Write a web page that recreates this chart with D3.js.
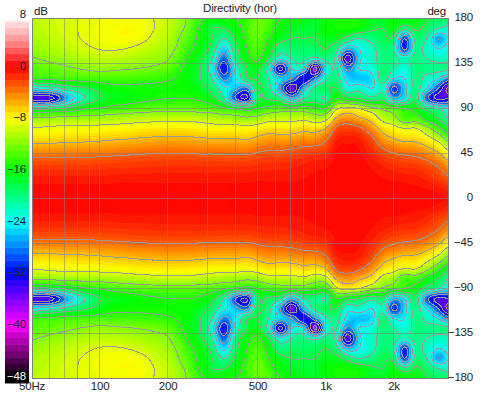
<!DOCTYPE html>
<html>
<head>
<meta charset="utf-8">
<script src="https://cdn.jsdelivr.net/npm/d3@7"></script>
<style>
  html, body { margin: 0; padding: 0; background: #fff; }
  svg { display: block; }
  text { font-family: "Liberation Sans", Arial, sans-serif; font-size: 11.5px; letter-spacing: -0.2px; fill: #222; }
</style>
</head>
<body>
<svg id="chart" width="480" height="396"></svg>
<script>
// measured frequency columns (Hz) and angle rows (deg), lower half mirrors the upper half
var freqs = [50,56,63,71,80,90,100,112,125,140,160,180,200,224,250,280,315,355,400,450,500,560,630,710,800,900,1000,1120,1250,1400,1600,1800,2000,2240,2500,2800,3150,3500];
var angles = [0,10,20,30,40,50,60,70,80,90,100,110,120,130,140,150,160,170,180];

// level in dB, one list per angle
var db0   = [-0.1,-0.1,-0.1,-0.1,-0.1,-0.1,-0.1,-0.1,-0.1,-0.1,-0.1,-0.1,-0.1,-0.1,-0.1,-0.1,-0.1,-0.1,-0.1,-0.1,-0.1,-0.1,-0.1,-0.1,-0.1,-0.1,-0.1,-0.1,-0.1,-0.1,-0.1,-0.1,-0.1,-0.1,-0.1,-0.2,-0.3,-0.5];
var db10  = [-0.3,-0.3,-0.3,-0.3,-0.3,-0.3,-0.3,-0.3,-0.3,-0.3,-0.3,-0.3,-0.3,-0.3,-0.3,-0.3,-0.3,-0.3,-0.3,-0.3,-0.3,-0.3,-0.3,-0.3,-0.3,-0.2,-0.2,-0.1,-0.1,-0.1,-0.2,-0.3,-0.3,-0.3,-0.4,-0.5,-0.8,-1.2];
var db20  = [-0.8,-0.8,-0.8,-0.8,-0.8,-0.8,-0.8,-0.8,-0.7,-0.7,-0.7,-0.7,-0.7,-0.7,-0.7,-0.7,-0.7,-0.7,-0.7,-0.7,-0.6,-0.6,-0.6,-0.6,-0.5,-0.4,-0.3,-0.2,-0.1,-0.1,-0.3,-0.5,-0.6,-0.7,-0.8,-1.2,-1.8,-2.7];
var db30  = [-1.6,-1.6,-1.6,-1.6,-1.6,-1.6,-1.6,-1.5,-1.5,-1.4,-1.4,-1.3,-1.3,-1.3,-1.3,-1.3,-1.3,-1.3,-1.3,-1.3,-1.2,-1.1,-1.1,-1,-0.8,-0.6,-0.5,-0.3,-0.2,-0.2,-0.5,-0.9,-1.2,-1.4,-1.5,-2,-2.8,-4.2];
var db40  = [-2.9,-2.9,-2.9,-2.8,-2.8,-2.8,-2.7,-2.6,-2.5,-2.4,-2.3,-2.3,-2.2,-2.2,-2.2,-2.3,-2.3,-2.4,-2.4,-2.4,-2.1,-1.9,-1.9,-1.8,-1.4,-1.2,-1,-0.4,-0.3,-0.3,-0.9,-1.7,-2.2,-2.5,-2.7,-3.3,-4.5,-6.5];
var db50  = [-5,-5,-4.9,-4.8,-4.8,-4.7,-4.6,-4.5,-4.3,-4.2,-4,-3.9,-3.8,-3.8,-3.9,-4,-4,-4.1,-4.1,-4.2,-3.7,-3.3,-3.3,-3.1,-2.7,-2.5,-2,-0.5,-0.4,-0.5,-1.6,-3,-3.8,-4.3,-4.5,-5.5,-7,-9.5];
var db60  = [-7,-7,-6.9,-6.8,-6.7,-6.6,-6.5,-6.3,-6.2,-6,-5.8,-5.7,-5.6,-5.6,-5.7,-5.8,-6,-6,-6,-6.2,-5.6,-5,-5.2,-5,-4.6,-4.6,-3.5,-1.2,-0.8,-1,-2.5,-5,-6,-6.8,-6.8,-8,-10,-13];
var db70  = [-8.7,-8.7,-8.5,-8.4,-8.3,-8.3,-8.2,-8.1,-8,-7.8,-7.6,-7.5,-7.4,-7.4,-7.5,-7.7,-8,-8,-8,-8.2,-7.8,-7.2,-7.3,-7.3,-6.7,-7,-6,-2.5,-2,-2.5,-4.5,-7,-8,-9,-8.8,-11,-14,-17];
var db80  = [-11.5,-11.5,-11.3,-11.1,-11,-11,-10.8,-10.6,-10.4,-10.2,-10,-9.8,-9.7,-9.7,-9.7,-10,-10.3,-10.7,-11,-11.5,-11,-10,-9.8,-10,-9.5,-10.5,-10,-5.5,-4.5,-5.5,-7,-10,-11,-14,-13.5,-16,-18,-21];
var db90  = [-19,-19,-18,-17.5,-16,-15,-14.8,-14.2,-13.8,-13.5,-13.2,-13,-13,-13,-13,-13.2,-13.5,-14.5,-15.5,-16.5,-15,-14,-13.5,-14,-13.5,-14.5,-15,-9.5,-8,-9,-11,-12.5,-14,-15,-16,-19,-21,-24];
var db100 = [-34,-35,-33,-27,-23,-20,-18,-17,-16.5,-16,-15.5,-15.2,-15,-15,-15,-15.5,-17,-21,-30,-33,-19,-18.5,-20,-26,-21,-20,-21,-15,-17,-18,-20,-19,-26,-24,-19,-29,-34,-33];
var db110 = [-24,-23,-22,-20,-19,-18,-17,-15.8,-15.6,-15.5,-15.5,-15.5,-15.5,-15.7,-16,-17,-19,-23,-26,-28,-18,-20,-27,-36,-26,-20,-18.5,-18,-23,-22,-24,-22,-31,-25,-20,-24,-30,-37];
var db120 = [-14.7,-14.5,-14.3,-14,-13.9,-13.8,-13.7,-13.8,-13.9,-14,-14.2,-14.4,-14.7,-15.3,-16.3,-18,-21,-28,-24,-18.5,-18,-21,-25,-27,-33,-28,-22,-20,-25,-26,-25,-19.5,-24,-24,-20,-22,-24,-28];
var db130 = [-13.5,-13.1,-12.8,-12.4,-12,-11.7,-11.4,-11.5,-11.7,-11.9,-12.2,-12.5,-13,-14.5,-16.3,-18,-23,-32,-23,-18,-17,-22,-34,-24,-24,-37,-24,-21,-28,-24,-23,-19.5,-21,-23,-20,-20,-20,-20];
var db140 = [-12.2,-11.8,-11.4,-11,-10.6,-10.3,-10,-10,-10.2,-10.5,-10.9,-11.3,-11.8,-13.5,-15.5,-17.5,-21,-29,-20,-16,-14.5,-18,-23,-21,-20,-22,-20,-22,-35,-25,-22,-20,-20,-22,-20,-21,-22,-22];
var db150 = [-11.3,-10.9,-10.5,-10,-9.6,-9.2,-8.9,-8.8,-8.9,-9.2,-9.8,-10.4,-11,-12.5,-14.5,-16.2,-19,-25,-19,-15,-13.5,-16,-20,-19,-19,-19,-18,-20,-26,-24,-22,-19.5,-21,-31,-21,-22,-24,-23];
var db160 = [-10.7,-10.3,-9.9,-9.5,-9.1,-8.7,-8.4,-8.2,-8.1,-8.2,-8.8,-9.7,-10.3,-12,-13.8,-15.8,-18,-21,-17.5,-14.5,-13,-15,-17,-18,-18,-18,-17,-17,-19,-21,-20,-18.5,-19,-30,-20,-21,-27,-24];
var db170 = [-10.3,-10,-9.6,-9.3,-9,-8.7,-8.3,-8.1,-8,-8,-8.4,-9.2,-9.8,-11.2,-13,-15.5,-18,-18,-16,-14,-12.5,-14,-16,-17,-17.5,-17.5,-16,-15.5,-15.5,-16,-17.5,-18,-16.5,-20,-17.5,-19,-21,-22];
var db180 = [-10,-9.8,-9.5,-9.2,-9,-8.8,-8.5,-8.3,-8.2,-8.2,-8.6,-9.2,-9.8,-11,-12.5,-14.5,-16,-15.5,-15,-14.5,-13,-13.5,-15,-16,-16.5,-17,-16,-15.5,-15,-15.5,-17,-17,-15.5,-15.5,-16,-17.5,-19,-19];
var levels = [db0,db10,db20,db30,db40,db50,db60,db70,db80,db90,db100,db110,db120,db130,db140,db150,db160,db170,db180];

// axes
var freqGrid = [50,60,70,80,90,100,200,300,400,500,600,700,800,900,1000,2000,3000];
var freqTicks = [50,100,200,500,1000,2000];
var freqLabels = ['50Hz','100','200','500','1k','2k'];
var angleTicks = [180,135,90,45,0,-45,-90,-135,-180];
var dbTicks = [8,0,-8,-16,-24,-32,-40,-48];
var colorDb = [8,4,0,-4,-8,-16,-24,-32,-40,-48];
var colorHex = ['#ffffff','#ff9090','#ff0000','#ff8000','#ffff00','#00ff00','#00ffff','#0000ff','#ff00ff','#000000'];

var W = 480, H = 396;
var plot = {left: 32.5, right: 448.5, top: 18.5, bottom: 378.5};

var x = d3.scaleLog().domain([50, 3483]).range([plot.left - 1, plot.right - 0.5]);
var y = d3.scaleLinear().domain([-180, 180]).range([plot.bottom, plot.top]);
var barY = d3.scaleLinear().domain([8, -48]).range([15, 376.5]);
var color = d3.scaleLinear().domain(colorDb).range(colorHex).clamp(true);

var svg = d3.select('#chart');

// colour bar, one band per dB
svg.append('g').selectAll('rect')
    .data(d3.range(-49, 8))
    .join('rect')
    .attr('x', 5)
    .attr('width', 24)
    .attr('y', function (d) { return Math.max(20, barY(d + 1)); })
    .attr('height', function (d) { return Math.max(0, barY(d) - Math.max(20, barY(d + 1))) + 0.5; })
    .attr('fill', function (d) { return color(d + 0.5); });

// bicubic lookup through the read values, only to make a smooth picture
function cubic(p0, p1, p2, p3, t) {
    return p1 + 0.5 * t * (p2 - p0 + t * (2 * p0 - 5 * p1 + 4 * p2 - p3 + t * (3 * (p1 - p2) + p3 - p0)));
}
function fracIndex(list, v) {
    var i = Math.max(1, Math.min(list.length - 1, d3.bisectLeft(list, v)));
    var a = list[i - 1], b = list[i];
    return i - 1 + Math.max(0, Math.min(1, (v - a) / (b - a)));
}
function at(r, c) {
    r = Math.max(0, Math.min(levels.length - 1, r));
    c = Math.max(0, Math.min(freqs.length - 1, c));
    return levels[r][c];
}
function sample(freq, angle) {
    var cf = fracIndex(logFreqs, Math.log(freq));
    var rf = fracIndex(angles, Math.abs(angle));
    var c = Math.floor(cf), r = Math.floor(rf);
    var rows = [];
    for (var i = -1; i <= 2; i++) {
        rows.push(cubic(at(r + i, c - 1), at(r + i, c), at(r + i, c + 1), at(r + i, c + 2), cf - c));
    }
    return cubic(rows[0], rows[1], rows[2], rows[3], rf - r);
}
var logFreqs = freqs.map(Math.log);

var step = 2;
var nx = Math.ceil((plot.right - plot.left) / step) + 3;
var ny = Math.ceil((plot.bottom - plot.top) / step) + 3;
var gridValues = new Array(nx * ny);
for (var j = 0; j < ny; j++) {
    for (var i = 0; i < nx; i++) {
        var fq = x.invert(plot.left + (i - 1) * step);
        var an = y.invert(plot.top + (j - 1) * step);
        gridValues[j * nx + i] = sample(fq, an);
    }
}

var toPlot = d3.geoTransform({
    point: function (px, py) {
        this.stream.point(plot.left + (px - 1.5) * step, plot.top + (py - 1.5) * step);
    }
});
var path = d3.geoPath(toPlot);
var contourGen = d3.contours().size([nx, ny]);

svg.append('clipPath').attr('id', 'plotClip')
    .append('rect')
    .attr('x', plot.left).attr('y', plot.top)
    .attr('width', plot.right - plot.left)
    .attr('height', plot.bottom - plot.top);

var area = svg.append('g').attr('clip-path', 'url(#plotClip)');

// filled bands
area.append('g').selectAll('path')
    .data(contourGen.thresholds(d3.range(-48, 8, 0.5))(gridValues))
    .join('path')
    .attr('d', path)
    .attr('fill', function (d) { return color(d.value + 0.25); });

// grid lines
var grid = area.append('g').attr('stroke', '#808080').attr('stroke-opacity', 0.55).attr('shape-rendering', 'crispEdges');
grid.selectAll('.vline').data(freqGrid).join('line')
    .attr('class', 'vline')
    .attr('x1', function (d) { return x(d); }).attr('x2', function (d) { return x(d); })
    .attr('y1', plot.top).attr('y2', plot.bottom);
grid.selectAll('.hline').data(angleTicks).join('line')
    .attr('class', 'hline')
    .attr('x1', plot.left).attr('x2', plot.right)
    .attr('y1', function (d) { return y(d); }).attr('y2', function (d) { return y(d); });

// iso lines every 3 dB
area.append('g').selectAll('path')
    .data(contourGen.thresholds(d3.range(-45, 0, 3))(gridValues))
    .join('path')
    .attr('d', path)
    .attr('fill', 'none')
    .attr('stroke', '#999999')
    .attr('stroke-width', 1)
    .attr('shape-rendering', 'crispEdges');

svg.append('rect')
    .attr('x', plot.left).attr('y', plot.top)
    .attr('width', plot.right - plot.left)
    .attr('height', plot.bottom - plot.top)
    .attr('fill', 'none')
    .attr('stroke', '#808080');

// axes, labels only
var bottomAxis = d3.axisBottom(x).tickValues(freqTicks).tickSize(0).tickPadding(0)
    .tickFormat(function (d) { return freqLabels[freqTicks.indexOf(d)]; });
svg.append('g').attr('transform', 'translate(0,' + 382 + ')').call(bottomAxis)
    .call(function (g) { g.select('.domain').remove(); })
    .selectAll('text').style('font-size', '11.5px').style('font-family', null);

var rightAxis = d3.axisLeft(y).tickValues(angleTicks).tickSize(0).tickPadding(0);
svg.append('g').attr('transform', 'translate(473,-2)').call(rightAxis)
    .call(function (g) { g.select('.domain').remove(); })
    .selectAll('text').style('font-size', '11.5px').style('font-family', null);

var barAxis = d3.axisLeft(barY).tickValues(dbTicks).tickSize(0).tickPadding(0);
svg.append('g').attr('transform', 'translate(26,-1)').call(barAxis)
    .call(function (g) { g.select('.domain').remove(); })
    .selectAll('text').style('font-size', '11.5px').style('font-family', null)
    .style('fill', function (d) { return d === -48 ? '#fff' : null; });

svg.append('text').attr('x', 240).attr('y', 12).attr('text-anchor', 'middle').text('Directivity (hor)');
svg.append('text').attr('x', 34).attr('y', 15).text('dB');
svg.append('text').attr('x', 446).attr('y', 15).attr('text-anchor', 'end').text('deg');
</script>
</body>
</html>
